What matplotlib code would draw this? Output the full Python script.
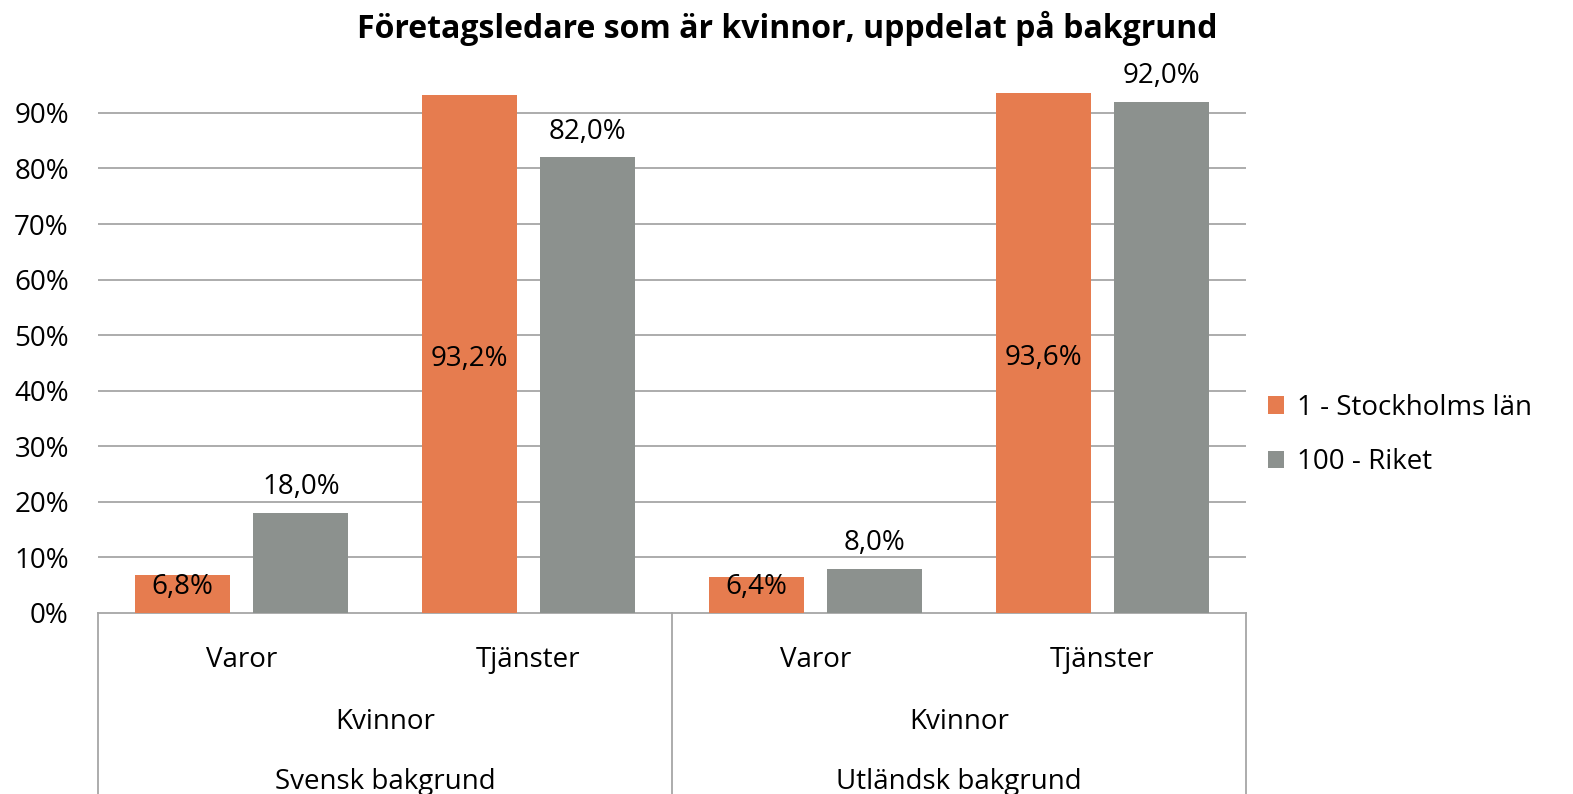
import matplotlib.pyplot as plt
import matplotlib.transforms as mtransforms
import numpy as np

# Data
kategorier = ["Varor", "Tjänster", "Varor", "Tjänster"]
niva2 = ["Kvinnor", "Kvinnor"]
niva3 = ["Svensk bakgrund", "Utländsk bakgrund"]
stockholm = [0.068, 0.932, 0.064, 0.936]
riket = [0.180, 0.820, 0.080, 0.920]
serier = ["1 - Stockholms län", "100 - Riket"]

ORANGE = "#E67C4F"
GRAY = "#8C918E"
GRID = "#A6A6A6"
FS = 20

plt.rcParams["font.family"] = ["Open Sans", "DejaVu Sans"]

fig = plt.figure(figsize=(15.73, 7.94), dpi=100)
ax = fig.add_axes([0.0623, 0.228, 0.7298, 0.6788])

x = np.arange(len(kategorier))
w = 0.331
off = 0.207
b1 = ax.bar(x - off, stockholm, w, color=ORANGE, label=serier[0], zorder=3)
b2 = ax.bar(x + off, riket, w, color=GRAY, label=serier[1], zorder=3)

ax.set_xlim(-0.5, len(kategorier) - 0.5)
ax.set_ylim(0, 0.97)
yt = np.arange(0, 1.0, 0.1)
ax.set_yticks(yt)
ax.set_yticklabels([f"{int(round(v*100))}%" for v in yt], fontsize=FS)
ax.tick_params(axis="y", length=0, pad=21)
ax.set_xticks([])

# Gridlines only to 90%
for v in yt[1:]:
    ax.axhline(v, color=GRID, lw=1.3, zorder=1)

for s in ["top", "right", "left"]:
    ax.spines[s].set_visible(False)
ax.spines["bottom"].set_color(GRID)
ax.spines["bottom"].set_linewidth(1.3)

# Data labels
for xi, v in zip(x, stockholm):
    ax.text(xi - off, max(v / 2, 0.055) - 0.009, f"{v*100:.1f}%".replace(".", ","),
            ha="center", va="center", fontsize=FS, zorder=4)
for xi, v in zip(x, riket):
    ax.text(xi + off, v + 0.046, f"{v*100:.1f}%".replace(".", ","),
            ha="center", va="center", fontsize=FS, zorder=4, clip_on=False)

# Multi-level category axis
trans = mtransforms.blended_transform_factory(ax.transData, ax.transAxes)
for xv in [-0.5, 1.5, 3.5]:
    ax.plot([xv, xv], [0, -0.34], color=GRID, lw=1.3, transform=trans, clip_on=False)
for xi, k in zip(x, kategorier):
    ax.text(xi, -0.088, k, ha="center", va="center", fontsize=FS, transform=trans)
for i in range(2):
    cx = 2 * i + 0.5
    ax.text(cx, -0.202, niva2[i], ha="center", va="center", fontsize=FS, transform=trans)
    ax.text(cx, -0.313, niva3[i], ha="center", va="center", fontsize=FS, transform=trans)

fig.text(0.5005, 0.964, "Företagsledare som är kvinnor, uppdelat på bakgrund",
         ha="center", va="center", fontsize=23, fontweight="bold")

fig.legend(handles=[b1, b2], labels=serier, loc="center left",
           bbox_to_anchor=(0.790, 0.452), frameon=False, fontsize=FS,
           handlelength=0.6, handleheight=0.6, handletextpad=0.45, labelspacing=0.95)

fig.savefig("out.png", dpi=100)
